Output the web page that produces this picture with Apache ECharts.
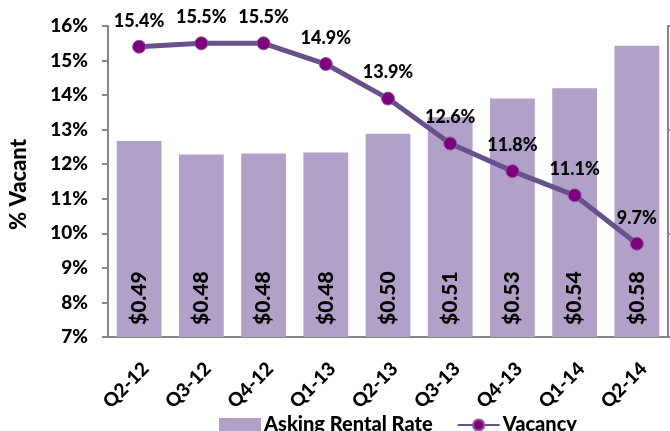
<!DOCTYPE html>
<html>
<head>
<meta charset="utf-8">
<script src="https://cdn.jsdelivr.net/npm/echarts@6/dist/echarts.min.js"></script>
<style>
html,body{margin:0;padding:0;background:#fff;}
#chart{width:670px;height:431px;}
</style>
</head>
<body>
<div id="chart"></div>
<script>
var categories = ['Q2-12','Q3-12','Q4-12','Q1-13','Q2-13','Q3-13','Q4-13','Q1-14','Q2-14'];
var askingRent = [0.489, 0.476, 0.477, 0.478, 0.496, 0.512, 0.530, 0.540, 0.581];
var vacancy = [15.4, 15.5, 15.5, 14.9, 13.9, 12.6, 11.8, 11.1, 9.7];

var FONT = 'Lato';
var W = 900;
var chart = echarts.init(document.getElementById('chart'), null, {renderer: 'canvas'});
var axisLineStyle = {color: '#868686', width: 2};
chart.setOption({
  animation: false,
  backgroundColor: '#ffffff',
  textStyle: {fontFamily: FONT},
  grid: {left: 107, right: 2, top: 26, bottom: 94, containLabel: false},
  legend: {
    top: 410,
    left: 214,
    itemWidth: 42,
    itemHeight: 14,
    itemGap: 24,
    textStyle: {fontFamily: FONT, fontWeight: W, fontSize: 20, color: '#000', padding: [0,0,0,-2]},
    data: [
      {name: 'Asking Rental Rate', icon: 'rect'},
      {name: 'Vacancy'}
    ]
  },
  xAxis: {
    type: 'category',
    data: categories,
    axisLine: {lineStyle: axisLineStyle},
    axisTick: {length: 6, lineStyle: axisLineStyle},
    axisLabel: {rotate: 45, margin: 22, verticalAlign: 'top', color: '#000', fontFamily: FONT, fontWeight: W, fontSize: 19, interval: 0}
  },
  yAxis: [
    {
      type: 'value', min: 7, max: 16, interval: 1,
      name: '% Vacant', nameLocation: 'middle', nameRotate: 90, nameGap: 78,
      nameTextStyle: {fontFamily: FONT, fontWeight: W, fontSize: 22, color: '#000', padding: [0, 6, 0, 0]},
      axisLine: {show: true, lineStyle: axisLineStyle},
      axisTick: {show: true, length: 6, lineStyle: axisLineStyle},
      splitLine: {show: false},
      axisLabel: {formatter: '{value}%', color: '#000', fontFamily: FONT, fontWeight: W, fontSize: 19, margin: 20}
    },
    {
      type: 'value', min: 0.3, max: 0.6, interval: 0.1, position: 'right',
      axisLine: {show: true, lineStyle: axisLineStyle},
      axisTick: {show: true, length: 6, lineStyle: axisLineStyle},
      splitLine: {show: false},
      axisLabel: {show: false}
    }
  ],
  series: [
    {
      name: 'Asking Rental Rate',
      type: 'bar',
      yAxisIndex: 1,
      data: askingRent,
      barCategoryGap: '28%',
      itemStyle: {color: '#b1a0c7'},
      label: {
        show: true, position: 'insideBottom', rotate: 90, align: 'left', verticalAlign: 'middle',
        distance: 12, color: '#000', fontFamily: FONT, fontWeight: W, fontSize: 21,
        formatter: function(p){ return '$' + p.value.toFixed(2); }
      },
      z: 2
    },
    {
      name: 'Vacancy',
      type: 'line',
      yAxisIndex: 0,
      data: vacancy,
      symbol: 'circle',
      symbolSize: 13,
      lineStyle: {color: '#68508a', width: 5},
      itemStyle: {color: '#7f007f', borderColor: '#8c5c9c', borderWidth: 1},
      label: {
        show: true, position: 'top', distance: 10, color: '#000',
        fontFamily: FONT, fontWeight: W, fontSize: 18,
        formatter: function(p){ return p.value.toFixed(1) + '%'; }
      },
      z: 3
    }
  ]
});
</script>
</body>
</html>
